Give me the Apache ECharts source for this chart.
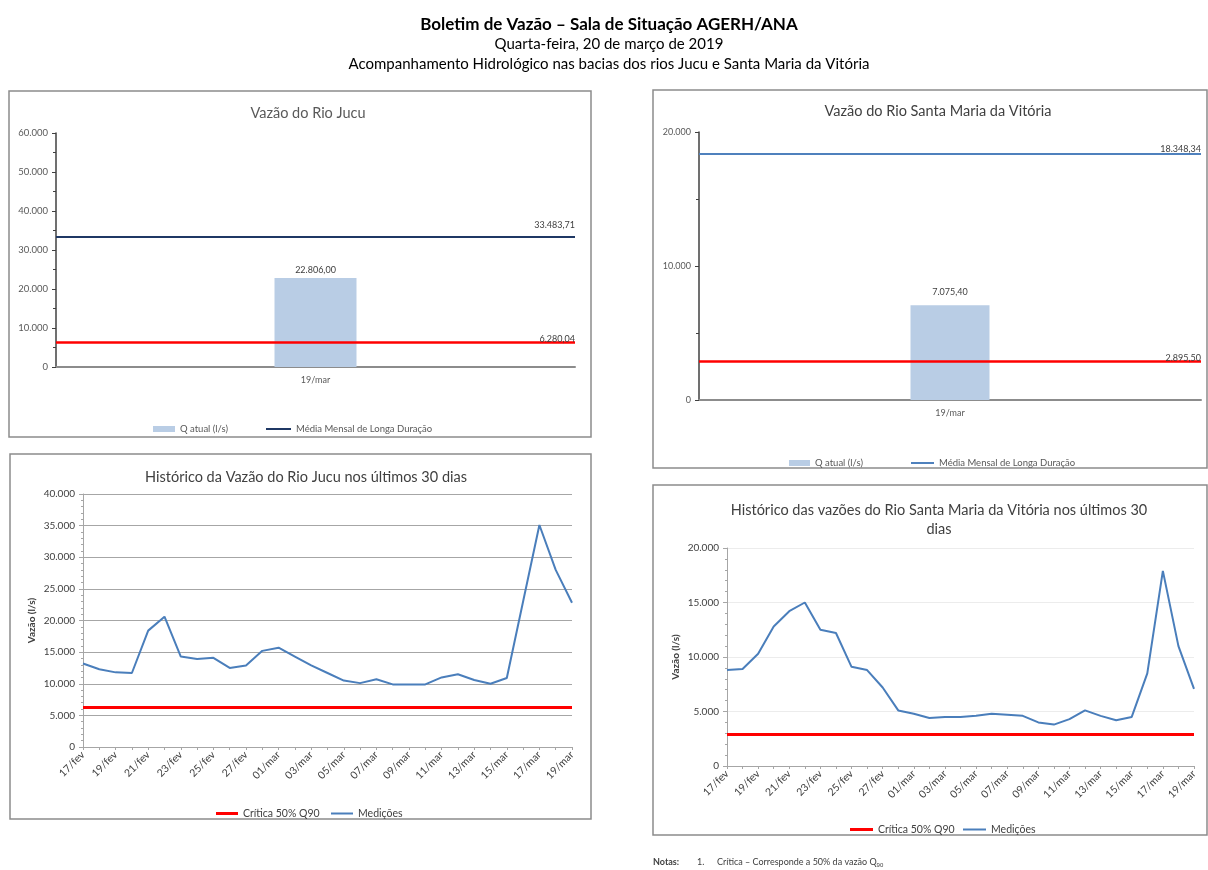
<!DOCTYPE html>
<html>
<head>
<meta charset="utf-8">
<script src="https://cdn.jsdelivr.net/npm/echarts@6/dist/echarts.min.js"></script>
<style>
  html, body { margin: 0; padding: 0; background: #ffffff; }
  #chart { width: 1208px; height: 870px; }
</style>
</head>
<body>
<div id="chart"></div>
<script>
// ---------- DATA ----------
const dates = ['17/fev','18/fev','19/fev','20/fev','21/fev','22/fev','23/fev','24/fev','25/fev','26/fev','27/fev','28/fev',
  '01/mar','02/mar','03/mar','04/mar','05/mar','06/mar','07/mar','08/mar','09/mar','10/mar','11/mar','12/mar','13/mar',
  '14/mar','15/mar','16/mar','17/mar','18/mar','19/mar'];
const jucuHist = [13200, 12300, 11800, 11700, 18400, 20600, 14300, 13900, 14100, 12500, 12900, 15200,
  15700, 14300, 12900, 11700, 10500, 10100, 10700, 9900, 9900, 9900, 11000, 11500, 10600,
  10000, 10900, 23000, 35100, 28000, 22806];
const smvHist = [8800, 8900, 10300, 12800, 14200, 15000, 12500, 12200, 9100, 8800, 7200, 5100,
  4800, 4400, 4500, 4500, 4600, 4800, 4700, 4600, 4000, 3800, 4300, 5100, 4600,
  4200, 4500, 8500, 17900, 11000, 7075];
const barCategory = ['19/mar'];
const jucuAtual = [22806.00];
const jucuMedia = 33483.71;
const jucuCritica = 6280.04;
const smvAtual = [7075.40];
const smvMedia = 18348.34;
const smvCritica = 2895.50;

// ---------- HELPERS ----------
const FONT = 'Lato, "Open Sans", sans-serif';
const fmtInt = v => String(Math.round(v)).replace(/\B(?=(\d{3})+(?!\d))/g, '.');
const fmtDec = v => { const p = v.toFixed(2).split('.'); return fmtInt(+p[0]) + ',' + p[1]; };

const chart = echarts.init(document.getElementById('chart'), null, { renderer: 'canvas' });

function barYAxis(gi, max, interval, fs) {
  return {
    gridIndex: gi, type: 'value', min: 0, max: max, interval: interval,
    axisLine: { show: true, lineStyle: { color: '#404040', width: 1.5 } },
    axisTick: { show: true, length: 4, lineStyle: { color: '#404040' } },
    minorTick: { show: true, splitNumber: 2, length: 3, lineStyle: { color: '#404040' } },
    splitLine: { show: false },
    axisLabel: { formatter: fmtInt, fontSize: fs, color: '#595959', fontFamily: FONT, margin: 8 }
  };
}
function barXAxis(gi) {
  return {
    gridIndex: gi, type: 'category', data: barCategory,
    axisLine: { show: true, lineStyle: { color: '#8c8c8c', width: 2 } },
    axisTick: { show: false },
    axisLabel: { fontSize: 9, color: '#595959', fontFamily: FONT, margin: 9 }
  };
}
function lineXAxis(gi) {
  return {
    gridIndex: gi, type: 'category', data: dates, boundaryGap: false,
    axisLine: { show: true, lineStyle: { color: '#a6a6a6', width: 1 } },
    axisTick: { show: true, interval: 0, length: 3, lineStyle: { color: '#a6a6a6' } },
    axisLabel: { interval: 1, rotate: 45, fontSize: 10.5, color: '#404040', fontFamily: FONT, margin: 6 }
  };
}
function lineYAxis(gi, max, splitColor) {
  return {
    gridIndex: gi, type: 'value', min: 0, max: max, interval: 5000,
    name: 'Vazão (l/s)', nameLocation: 'middle', nameRotate: 90, nameGap: 46,
    nameTextStyle: { fontSize: 10, fontWeight: 'bold', color: '#404040', fontFamily: FONT },
    axisLine: { show: true, lineStyle: { color: '#a6a6a6' } },
    axisTick: { show: true, length: 4, lineStyle: { color: '#a6a6a6' } },
    minorTick: { show: true, splitNumber: 5, length: 2, lineStyle: { color: '#a6a6a6' } },
    splitLine: { show: true, lineStyle: { color: splitColor, width: 1 } },
    axisLabel: { formatter: fmtInt, fontSize: 10, color: '#404040', fontFamily: FONT, margin: 8 }
  };
}
function hLine(value, color, width, labelText, dist) {
  return {
    silent: true, symbol: ['none', 'none'], animation: false,
    lineStyle: { color: color, width: width, type: 'solid' },
    label: labelText ? { show: true, position: 'insideEndTop', formatter: labelText, fontSize: 9, color: '#404040', fontFamily: FONT, distance: [0, dist] } : { show: false },
    emphasis: { disabled: true },
    data: [{ yAxis: value }]
  };
}
function legendItem(name, left, top, w, h, fs, color) {
  return { data: [name], left: left, top: top, itemWidth: w, itemHeight: h, icon: 'rect',
    selectedMode: false, textStyle: { fontSize: fs, color: color, fontFamily: FONT } };
}

const option = {
  animation: false,
  backgroundColor: '#ffffff',
  textStyle: { fontFamily: FONT },
  title: [
    { text: 'Boletim de Vazão – Sala de Situação AGERH/ANA', left: 604, top: 11, textAlign: 'center',
      textStyle: { fontSize: 17, fontWeight: 'bold', color: '#000000', fontFamily: FONT } },
    { text: 'Quarta-feira, 20 de março de 2019', left: 604, top: 32, textAlign: 'center',
      textStyle: { fontSize: 15, fontWeight: 'normal', color: '#000000', fontFamily: FONT } },
    { text: 'Acompanhamento Hidrológico nas bacias dos rios Jucu e Santa Maria da Vitória', left: 604, top: 52, textAlign: 'center',
      textStyle: { fontSize: 15, fontWeight: 'normal', color: '#000000', fontFamily: FONT } },
    { text: 'Vazão do Rio Jucu', left: 303, top: 101, textAlign: 'center',
      textStyle: { fontSize: 14.5, fontWeight: 'normal', color: '#595959', fontFamily: FONT } },
    { text: 'Vazão do Rio Santa Maria da Vitória', left: 933, top: 99, textAlign: 'center',
      textStyle: { fontSize: 14.5, fontWeight: 'normal', color: '#404040', fontFamily: FONT } },
    { text: 'Histórico da Vazão do Rio Jucu nos últimos 30 dias', left: 301, top: 465, textAlign: 'center',
      textStyle: { fontSize: 14.5, fontWeight: 'normal', color: '#404040', fontFamily: FONT } },
    { text: 'Histórico das vazões do Rio Santa Maria da Vitória nos últimos 30\ndias', left: 934, top: 496, textAlign: 'center',
      textStyle: { fontSize: 14.5, fontWeight: 'normal', color: '#404040', fontFamily: FONT, lineHeight: 19, align: 'center' } }
  ],
  legend: [
    legendItem('Q atual (l/s)', 148, 419, 22, 6, 9.5, '#595959'),
    legendItem('Média Mensal de Longa Duração', 261, 419, 25, 2, 9.5, '#595959'),
    legendItem('Q atual (l/s) ', 784, 453, 21, 6, 9.5, '#595959'),
    legendItem('Média Mensal de Longa Duração ', 906, 453, 23, 2, 9.5, '#595959'),
    legendItem('Crítica 50% Q90', 211, 803, 22, 3, 10.5, '#404040'),
    legendItem('Medições', 326, 803, 22, 2, 10.5, '#404040'),
    legendItem('Crítica 50% Q90 ', 845, 819, 23, 3, 10.5, '#404040'),
    legendItem('Medições ', 958, 819, 23, 2, 10.5, '#404040')
  ],
  grid: [
    { left: 56, top: 133, width: 519, height: 234 },
    { left: 699, top: 132, width: 502, height: 268 },
    { left: 83, top: 494, width: 489, height: 253 },
    { left: 727, top: 548, width: 467, height: 218 }
  ],
  xAxis: [ barXAxis(0), barXAxis(1), lineXAxis(2), lineXAxis(3) ],
  yAxis: [ barYAxis(0, 60000, 10000, 9.5), barYAxis(1, 20000, 10000, 9), lineYAxis(2, 40000, '#a6a6a6'), lineYAxis(3, 20000, '#ececec') ],
  series: [
    // Top-left bar chart
    { name: 'Q atual (l/s)', type: 'bar', xAxisIndex: 0, yAxisIndex: 0, data: jucuAtual, barWidth: 82,
      itemStyle: { color: '#b9cde5' },
      label: { show: true, position: 'top', distance: 3, formatter: p => fmtDec(p.value), fontSize: 9, color: '#404040', fontFamily: FONT } },
    { name: 'Média Mensal de Longa Duração', type: 'line', xAxisIndex: 0, yAxisIndex: 0, data: [], showSymbol: false, symbol: 'none',
      lineStyle: { color: '#1f3864', width: 2 }, itemStyle: { color: '#1f3864' },
      markLine: hLine(jucuMedia, '#1f3864', 2, fmtDec(jucuMedia), 7) },
    { name: 'Crítica Jucu', type: 'line', xAxisIndex: 0, yAxisIndex: 0, data: [], showSymbol: false, symbol: 'none',
      lineStyle: { color: '#ff0000', width: 2.5 },
      markLine: hLine(jucuCritica, '#ff0000', 2.5, fmtDec(jucuCritica), -1) },
    // Top-right bar chart
    { name: 'Q atual (l/s) ', type: 'bar', xAxisIndex: 1, yAxisIndex: 1, data: smvAtual, barWidth: 79,
      itemStyle: { color: '#b9cde5' },
      label: { show: true, position: 'top', distance: 9, formatter: p => fmtDec(p.value), fontSize: 9, color: '#404040', fontFamily: FONT } },
    { name: 'Média Mensal de Longa Duração ', type: 'line', xAxisIndex: 1, yAxisIndex: 1, data: [], showSymbol: false, symbol: 'none',
      lineStyle: { color: '#4f81bd', width: 2 }, itemStyle: { color: '#4f81bd' },
      markLine: hLine(smvMedia, '#4f81bd', 2, fmtDec(smvMedia), 1) },
    { name: 'Crítica SMV', type: 'line', xAxisIndex: 1, yAxisIndex: 1, data: [], showSymbol: false, symbol: 'none',
      lineStyle: { color: '#ff0000', width: 2.5 },
      markLine: hLine(smvCritica, '#ff0000', 2.5, fmtDec(smvCritica), -1) },
    // Bottom-left line chart
    { name: 'Crítica 50% Q90', type: 'line', xAxisIndex: 2, yAxisIndex: 2, data: [], showSymbol: false, symbol: 'none',
      lineStyle: { color: '#ff0000', width: 3 }, itemStyle: { color: '#ff0000' },
      markLine: hLine(jucuCritica, '#ff0000', 3, null, 0) },
    { name: 'Medições', type: 'line', xAxisIndex: 2, yAxisIndex: 2, data: jucuHist, showSymbol: false, symbol: 'none',
      lineStyle: { color: '#4a7ebb', width: 2 }, itemStyle: { color: '#4a7ebb' } },
    // Bottom-right line chart
    { name: 'Crítica 50% Q90 ', type: 'line', xAxisIndex: 3, yAxisIndex: 3, data: [], showSymbol: false, symbol: 'none',
      lineStyle: { color: '#ff0000', width: 3 }, itemStyle: { color: '#ff0000' },
      markLine: hLine(smvCritica, '#ff0000', 3, null, 0) },
    { name: 'Medições ', type: 'line', xAxisIndex: 3, yAxisIndex: 3, data: smvHist, showSymbol: false, symbol: 'none',
      lineStyle: { color: '#4a7ebb', width: 2 }, itemStyle: { color: '#4a7ebb' } }
  ],
  graphic: [
    { type: 'rect', shape: { x: 9, y: 91, width: 582, height: 346 }, style: { fill: null, stroke: '#8c8c8c', lineWidth: 1.5 }, silent: true },
    { type: 'rect', shape: { x: 653, y: 90, width: 554, height: 378 }, style: { fill: null, stroke: '#8c8c8c', lineWidth: 1.5 }, silent: true },
    { type: 'rect', shape: { x: 10, y: 454, width: 581, height: 365 }, style: { fill: null, stroke: '#8c8c8c', lineWidth: 1.5 }, silent: true },
    { type: 'rect', shape: { x: 653, y: 485, width: 554, height: 350 }, style: { fill: null, stroke: '#8c8c8c', lineWidth: 1.5 }, silent: true },
    { type: 'text', left: 653, top: 858, silent: true,
      style: { text: 'Notas:', font: 'bold 9px ' + FONT, fill: '#404040' } },
    { type: 'text', left: 697, top: 858, silent: true,
      style: { text: '1.', font: '9px ' + FONT, fill: '#404040' } },
    { type: 'text', left: 717, top: 858, silent: true,
      style: { text: 'Crítica – Corresponde a 50% da vazão Q{s|90}', font: '9px ' + FONT, fill: '#404040',
        rich: { s: { fontSize: 6, padding: [5, 0, 0, 0], fill: '#404040' } } } }
  ]
};
chart.setOption(option);
</script>
</body>
</html>
